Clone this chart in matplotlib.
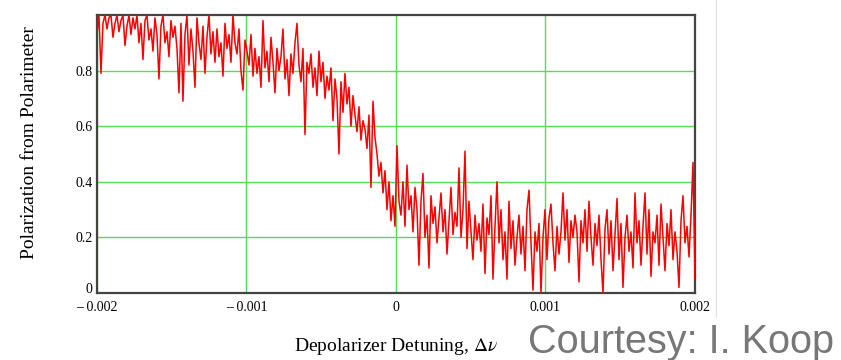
import numpy as np
import matplotlib
matplotlib.use("Agg")
import matplotlib.pyplot as plt
from matplotlib.lines import Line2D
from matplotlib.transforms import ScaledTranslation

# polarimeter readings, evenly spaced over the detuning scan
polarization = [
    0.93, 1.0, 0.79, 0.97, 1.0, 0.95, 0.99, 1.0, 0.92, 0.97, 1.0, 0.94, 0.98, 1.0, 0.89, 0.96, 1.0, 0.93, 0.99, 0.95,
    1.0, 0.9, 0.97, 0.84, 0.98, 1.0, 0.91, 0.95, 0.87, 0.99, 0.93, 0.77, 0.96, 1.0, 0.9, 0.94, 0.85, 0.98, 0.92, 0.96,
    0.88, 0.72, 0.97, 0.69, 0.93, 1.0, 0.82, 0.95, 0.87, 0.74, 0.99, 0.9, 0.84, 0.96, 0.79, 0.92, 1.0, 0.86, 0.94, 0.83,
    0.95, 0.85, 0.9, 0.78, 0.97, 0.88, 0.93, 0.83, 1.0, 0.9, 0.86, 0.95, 0.8, 0.73, 0.91, 0.87, 0.82, 0.93, 0.78, 0.88,
    0.79, 0.85, 0.74, 0.98, 0.81, 0.87, 0.76, 0.92, 0.83, 0.72, 0.88, 0.8, 0.85, 0.95, 0.77, 0.84, 0.71, 0.86, 0.79, 0.9,
    0.97, 0.82, 0.76, 0.88, 0.57, 0.83, 0.79, 0.86, 0.74, 0.81, 0.71, 0.87, 0.76, 0.83, 0.7, 0.78, 0.73, 0.81, 0.62, 0.77,
    0.7, 0.5, 0.76, 0.65, 0.79, 0.68, 0.74, 0.6, 0.71, 0.64, 0.58, 0.67, 0.55, 0.62, 0.59, 0.52, 0.64, 0.38, 0.69, 0.56,
    0.5, 0.42, 0.47, 0.36, 0.44, 0.3, 0.4, 0.26, 0.35, 0.24, 0.53, 0.33, 0.28, 0.4, 0.24, 0.46, 0.3, 0.35, 0.22, 0.38,
    0.3, 0.1, 0.33, 0.43, 0.2, 0.28, 0.09, 0.35, 0.25, 0.31, 0.18, 0.27, 0.36, 0.22, 0.3, 0.14, 0.26, 0.38, 0.21, 0.29,
    0.24, 0.45, 0.2, 0.3, 0.51, 0.16, 0.33, 0.22, 0.12, 0.28, 0.19, 0.25, 0.15, 0.32, 0.07, 0.27, 0.21, 0.35, 0.05, 0.24,
    0.4, 0.18, 0.3, 0.12, 0.22, 0.05, 0.33, 0.16, 0.26, 0.1, 0.2, 0.28, 0.14, 0.24, 0.08, 0.3, 0.37, 0.18, 0.01, 0.22,
    0.15, 0.25, 0.0, 0.2, 0.3, 0.12, 0.27, 0.32, 0.18, 0.08, 0.24, 0.14, 0.22, 0.36, 0.19, 0.3, 0.11, 0.26, 0.2, 0.28,
    0.22, 0.04, 0.26, 0.18, 0.3, 0.15, 0.33, 0.2, 0.1, 0.25, 0.17, 0.28, 0.12, 0.0, 0.23, 0.3, 0.14, 0.26, 0.08, 0.21,
    0.34, 0.12, 0.25, 0.02, 0.2, 0.28, 0.15, 0.22, 0.09, 0.36, 0.18, 0.26, 0.1, 0.24, 0.36, 0.14, 0.3, 0.06, 0.22, 0.18,
    0.28, 0.1, 0.32, 0.2, 0.08, 0.25, 0.17, 0.3, 0.12, 0.22, 0.15, 0.02, 0.26, 0.35, 0.18, 0.24, 0.13, 0.28, 0.47, 0.05,
]
detuning = np.linspace(-0.002, 0.002, len(polarization))

x_ticks = [-0.002, -0.001, 0, 0.001, 0.002]
x_tick_labels = ["\u2013 0.002", "\u2013 0.001", "0", "0.001", "0.002"]
y_ticks = [0, 0.2, 0.4, 0.6, 0.8]
y_tick_labels = ["0", "0.2", "0.4", "0.6", "0.8"]

plt.rcParams["font.family"] = ["Liberation Serif", "DejaVu Serif"]
plt.rcParams["mathtext.fontset"] = "stix"

fig = plt.figure(figsize=(8.41, 3.6), dpi=100)
ax = fig.add_axes([0.1153, 0.1861, 0.7111, 0.7722])

ax.plot(detuning, polarization, color="#ff0000", lw=1.1, zorder=3)

ax.set_xlim(-0.002, 0.002)
ax.set_ylim(0, 1.0)
ax.set_xticks(x_ticks)
ax.set_xticklabels(x_tick_labels, fontsize=10)
ax.set_yticks(y_ticks)
ax.set_yticklabels(y_tick_labels, fontsize=10)
ax.tick_params(length=0)
ax.tick_params(axis="x", pad=6)
ax.tick_params(axis="y", pad=3)
ax.grid(True, color="#55dd55", lw=1.0, zorder=1)

# lift the "0" label at the origin above the x tick labels
zero_label = ax.get_yticklabels()[0]
zero_label.set_transform(zero_label.get_transform() + ScaledTranslation(0, 0.05, fig.dpi_scale_trans))

for s in ax.spines.values():
    s.set_color("#444444")
    s.set_linewidth(1.6)

ax.set_ylabel("Polarization from Polarimeter", fontsize=14)
ax.yaxis.set_label_coords(-0.098, 0.54)
ax.set_xlabel("Depolarizer Detuning, $\\Delta\\nu$", fontsize=14)
ax.xaxis.set_label_coords(0.5, -0.155)

fig.text(0.628, 0.02, "Courtesy: I. Koop", fontsize=28.5, color="#777777",
         family=["Liberation Sans", "DejaVu Sans"], ha="left", va="baseline")

# thin border line at the right of the slide region
fig.add_artist(Line2D([0.851, 0.851], [0.12, 1.0], color="#e0e0e0", lw=0.8))

fig.savefig("out.png", dpi=100)
